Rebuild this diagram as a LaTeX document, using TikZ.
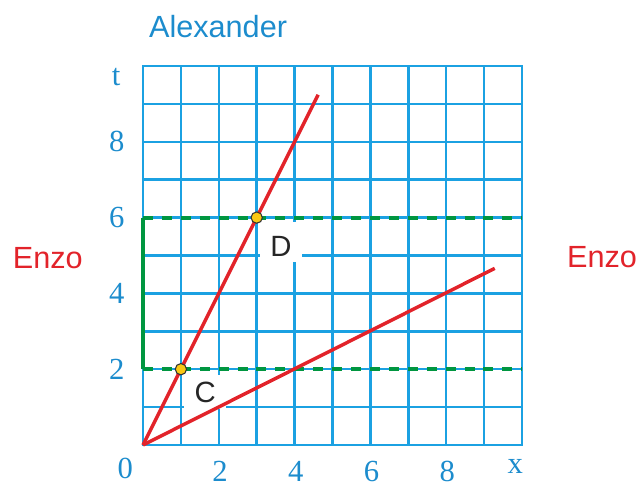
\documentclass[tikz,border=0pt]{standalone}
\usepackage{fontspec}
\setmainfont{Liberation Serif}
\newfontfamily\labelsans{Liberation Sans}
\definecolor{gridblue}{RGB}{27,161,226}
\definecolor{txtblue}{RGB}{28,140,205}
\definecolor{lred}{RGB}{226,35,42}
\definecolor{lgreen}{RGB}{0,150,64}
\definecolor{dotyellow}{RGB}{250,200,20}
\begin{document}
\begin{tikzpicture}[
  gridline/.style={draw=gridblue, line width=1.9pt},
  graphline/.style={draw=lred, line width=2.6pt},
  greendash/.style={draw=lgreen, line width=3pt, dash pattern=on 7.5pt off 6.7pt},
  greensolid/.style={draw=lgreen, line width=3.5pt},
  ptdot/.style={circle, fill=dotyellow, draw=black!80, line width=0.8pt, minimum size=8.5pt, inner sep=0pt},
  axnum/.style={text=txtblue, inner sep=0pt, font=\fontsize{23}{26}\selectfont},
  sanslab/.style={font=\labelsans\fontsize{23}{26}\selectfont},
  ptlabel/.style={text=black!85, font=\labelsans\fontsize{22}{24}\selectfont},
  mask/.style={fill=white, draw=none}
]
\useasboundingbox (-3.773,-1.082) rectangle (13.113,11.741);
% grid
\draw[gridline, line cap=rect] (0,0) grid (10,10);
% white masks behind labels
\fill[mask] (1.08,0.95) rectangle (2.19,1.85);
\fill[mask] (3.09,4.83) rectangle (4.20,5.88);
% green lines
\coordinate (g2a) at (0,2);
\coordinate (g2b) at (10,2);
\coordinate (g6a) at (0,6);
\coordinate (g6b) at (10,6);
\draw[greendash] (g2a) -- (g2b);
\draw[greendash] (g6a) -- (g6b);
\draw[greensolid] (g2a) -- (g6a);
% red lines
\coordinate (O) at (0,0);
\coordinate (endA) at (4.62,9.24);
\coordinate (endE) at (9.28,4.66);
\draw[graphline] (O) -- (endA);
\draw[graphline] (O) -- (endE);
% points
\node[ptdot] (C) at (1,2) {};
\node[ptdot] (D) at (3,6) {};
\node[ptlabel] (Clab) at (1.64,1.40) {C};
\node[ptlabel] (Dlab) at (3.64,5.25) {D};
% axis labels
\node[axnum] (tlab) at (-0.71,9.71) {t};
\node[axnum] (y2) at (-0.69,2) {2};
\node[axnum] (y4) at (-0.69,4) {4};
\node[axnum] (y6) at (-0.69,6) {6};
\node[axnum] (y8) at (-0.69,8) {8};
\node[axnum] (zero) at (-0.47,-0.61) {0};
\node[axnum] (x2) at (2.03,-0.70) {2};
\node[axnum] (x4) at (4.03,-0.70) {4};
\node[axnum] (x6) at (6.03,-0.70) {6};
\node[axnum] (x8) at (8.03,-0.70) {8};
\node[axnum] (xlab) at (9.82,-0.56) {x};
% names
\node[sanslab, text=txtblue] (alex) at (1.98,11.03) {Alexander};
\node[sanslab, text=lred] (enzoL) at (-2.51,4.93) {Enzo};
\node[sanslab, text=lred] (enzoR) at (12.11,4.96) {Enzo};
\end{tikzpicture}
\end{document}
